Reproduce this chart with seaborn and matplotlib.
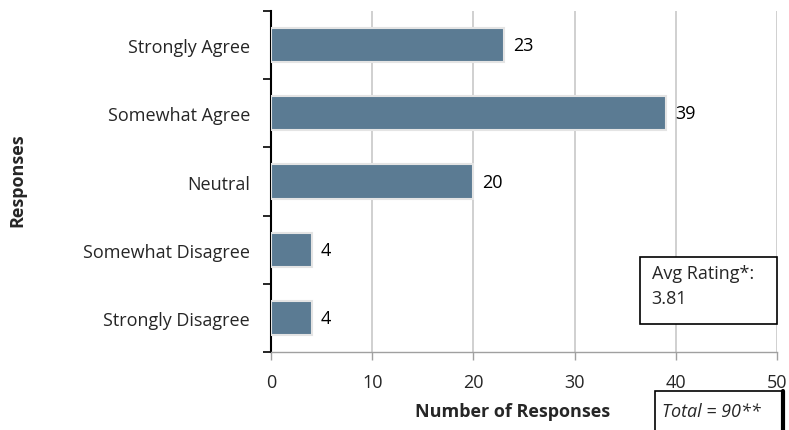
import matplotlib
matplotlib.use('Agg')
import matplotlib.pyplot as plt
from matplotlib.patches import Rectangle
import seaborn as sns
import pandas as pd

# Data
responses = ['Strongly Agree', 'Somewhat Agree', 'Neutral', 'Somewhat Disagree', 'Strongly Disagree']
counts = [23, 39, 20, 4, 4]
x_ticks = [0, 10, 20, 30, 40, 50]

df = pd.DataFrame({'Response': responses, 'Count': counts})

sns.set_style('white')
plt.rcParams['font.family'] = ['Open Sans', 'DejaVu Sans']
FS = 13

fig = plt.figure(figsize=(7.89, 4.31), dpi=100)
ax = fig.add_axes([0.3435, 0.181, 0.6415, 0.791])

sns.barplot(data=df, y='Response', x='Count', orient='h', color='#5B7B93',
            width=0.5, edgecolor='#E4E4E4', linewidth=1.5, saturation=1, ax=ax, zorder=3)

# value labels
for i, v in enumerate(counts):
    ax.text(v + 0.9, i, str(v), va='center', ha='left', fontsize=FS, color='black')

ax.set_xlim(0, 50)
ax.set_ylim(4.5, -0.5)
ax.set_xticks(x_ticks)
ax.set_xticklabels([str(t) for t in x_ticks], fontsize=FS)
ax.xaxis.grid(True, color='#C8C8C8', linewidth=1.2, zorder=0)
ax.set_axisbelow(True)

# y ticks at category boundaries, labels at centres
ax.set_yticks([i - 0.5 for i in range(6)], minor=False)
ax.set_yticklabels([''] * 6)
ax.set_yticks(range(5), minor=True)
ax.set_yticklabels(responses, minor=True, fontsize=FS)
ax.tick_params(axis='y', which='major', direction='out', length=6, width=1.2, color='black', left=True)
ax.tick_params(axis='y', which='minor', length=0, pad=15)
ax.tick_params(axis='x', direction='out', length=6, width=1, color='#A0A0A0', bottom=True, pad=9)

for s in ['top', 'right']:
    ax.spines[s].set_visible(False)
ax.spines['left'].set_color('black')
ax.spines['left'].set_linewidth(1.5)
ax.spines['bottom'].set_color('#A0A0A0')
ax.spines['bottom'].set_linewidth(1)

ax.set_xlabel('')
ax.set_ylabel('')
fig.text(0.022, 0.583, 'Responses', rotation=90, fontsize=FS, fontweight='bold', ha='center', va='center')
fig.text(0.65, 0.043, 'Number of Responses', fontsize=FS, fontweight='bold', ha='center', va='center')

# Avg rating box
fig.patches.append(Rectangle((0.811, 0.246), 0.174, 0.155, transform=fig.transFigure,
                             facecolor='white', edgecolor='black', linewidth=1.2, zorder=5))
fig.text(0.826, 0.336, 'Avg Rating*:\n3.81', fontsize=FS, ha='left', va='center',
         linespacing=1.5, zorder=6)

# Total box
fig.patches.append(Rectangle((0.830, -0.02), 0.161, 0.1105, transform=fig.transFigure,
                             facecolor='white', edgecolor='black', linewidth=1.2, zorder=5))
fig.lines.append(plt.Line2D([0.992, 0.992], [-0.02, 0.09], transform=fig.transFigure,
                            color='black', linewidth=3, zorder=6))
fig.text(0.839, 0.044, 'Total = 90**', fontsize=FS, style='italic', ha='left', va='center', zorder=6)

fig.savefig('out.png', dpi=100)
